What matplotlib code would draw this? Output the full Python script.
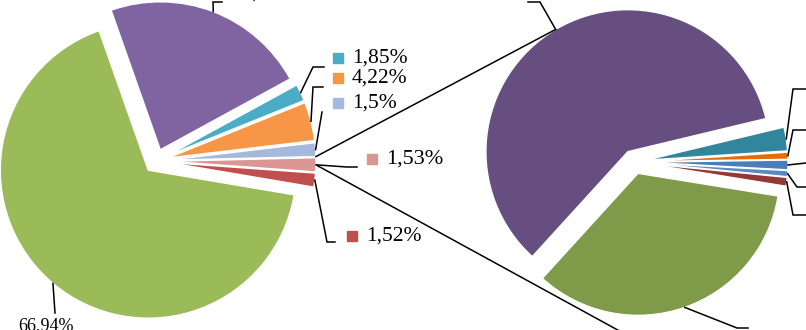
import math
import matplotlib.pyplot as plt

plt.rcParams["font.family"] = ["Liberation Serif", "DejaVu Serif"]

# left pie, counter-clockwise starting from the red slice
left_labels = ["1,52%", "1,53%", "1,5%", "4,22%", "1,85%", "22,44%", "66,94%"]
left_values = [1.52, 1.53, 1.5, 4.22, 1.85, 22.44, 66.94]
left_colors = ["#C0504D", "#D99694", "#A6B8DC", "#F79646", "#4BACC6", "#8064A2", "#9BBB59"]

# right pie (its labels fall outside the picture)
right_values = [1.0, 0.7, 1.1, 0.8, 2.7, 59.5, 34.2]
right_colors = ["#953735", "#5A8AC6", "#4A7EBB", "#E46C0A", "#31859C", "#664F80", "#7F9A48"]

W, H = 806, 330
fig = plt.figure(figsize=(W / 100, H / 100), dpi=100)
ax = fig.add_axes([0, 0, 1, 1])

wl, _ = ax.pie(left_values, colors=left_colors, startangle=-9.6, radius=148,
               center=(156, H - 161), explode=[12] * 7,
               wedgeprops=dict(edgecolor="white", linewidth=1))
wr, _ = ax.pie(right_values, colors=right_colors, startangle=-9.2, radius=142,
               center=(634, H - 162), explode=[12] * 7,
               wedgeprops=dict(edgecolor="white", linewidth=1))

ax.set_xlim(0, W)
ax.set_ylim(0, H)
ax.set_aspect("equal")
ax.axis("off")


def arc_point(w, ang=None):
    if ang is None:
        ang = (w.theta1 + w.theta2) / 2
    t = math.radians(ang)
    cx, cy = w.center
    return cx + w.r * math.cos(t), cy + w.r * math.sin(t)


def leader(w, pts, z=3):
    x0, y0 = arc_point(w)
    xs = [x0] + [p[0] for p in pts]
    ys = [y0] + [H - p[1] for p in pts]
    ax.plot(xs, ys, color="black", lw=1.1, zorder=z, solid_joinstyle="miter")


# leader lines of the left pie (elbows in picture pixels)
left_elbows = {
    0: [(327, 242), (335, 242)],
    1: [(347, 167), (357, 167)],
    2: [(322, 112)],
    3: [(313, 87), (323, 87)],
    4: [(313, 67), (324, 67)],
    5: [(213, 2), (222, 2)],
    6: [(55, 313)],
}
for i, pts in left_elbows.items():
    leader(wl[i], pts)

# labels with a small colour square
left_label_pos = {0: (352, 236), 1: (372, 159), 2: (338, 103), 3: (338, 78), 4: (338, 58)}
for i, (x, y) in left_label_pos.items():
    fs = 16 if i == 1 else 15.5
    ax.plot(x, H - y, marker="s", ms=7.5, color=left_colors[i], zorder=4)
    ax.text(x + 14, H - y, left_labels[i], fontsize=fs, va="center", ha="left")
ax.text(18, H - 317, left_labels[6], fontsize=13, va="top", ha="left")
ax.text(232, H + 7, left_labels[5], fontsize=14.5, va="center", ha="left")

# leader lines of the right pie
right_elbows = {
    0: [(793, 215), (806, 215)],
    1: [(797, 187), (806, 187)],
    2: [(806, 163)],
    3: [(793, 130), (806, 130)],
    4: [(793, 89), (806, 89)],
    5: [(540, 2), (528, 2)],
    6: [(737, 328), (748, 328)],
}
for i, pts in right_elbows.items():
    leader(wr[i], pts)

# connector lines between the two pies
p_up = arc_point(wl[2], wl[2].theta1)
p_lo = arc_point(wl[1])
q_up = arc_point(wr[5])
ax.plot([p_up[0], q_up[0]], [p_up[1], q_up[1]], color="black", lw=1.1, zorder=3)
ax.plot([p_lo[0], 625], [p_lo[1], H - 334], color="black", lw=1.1, zorder=0.5)

fig.savefig("out.png", dpi=100, facecolor="white")
